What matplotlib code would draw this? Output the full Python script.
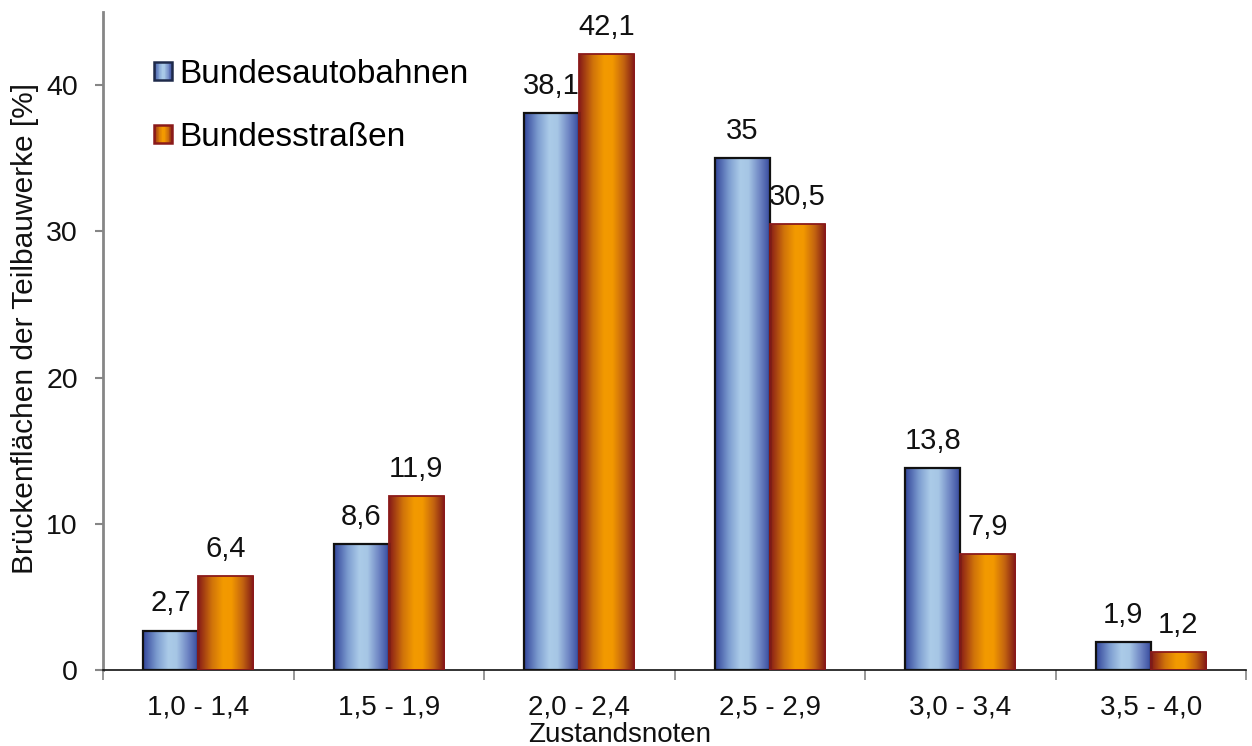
import numpy as np
import matplotlib
matplotlib.use("Agg")
import matplotlib.pyplot as plt
from matplotlib.colors import LinearSegmentedColormap
from matplotlib.patches import Rectangle
from matplotlib.legend_handler import HandlerBase

plt.rcParams['font.family'] = ['Liberation Sans', 'DejaVu Sans']

# Zustandsnoten-Klassen und Flächenanteile
categories = ["1,0 - 1,4", "1,5 - 1,9", "2,0 - 2,4", "2,5 - 2,9", "3,0 - 3,4", "3,5 - 4,0"]
autobahnen = [2.7, 8.6, 38.1, 35.0, 13.8, 1.9]
strassen = [6.4, 11.9, 42.1, 30.5, 7.9, 1.2]
series_names = ["Bundesautobahnen", "Bundesstraßen"]
y_ticks = [0, 10, 20, 30, 40]

blue_cmap = LinearSegmentedColormap.from_list(
    "blue_tube", [(0.0, "#32459a"), (0.25, "#7d9dd0"), (0.45, "#abcbe8"),
                  (0.6, "#a6c6e5"), (0.8, "#6f86c4"), (1.0, "#32459a")])
orange_cmap = LinearSegmentedColormap.from_list(
    "orange_tube", [(0.0, "#861a18"), (0.25, "#d0730a"), (0.45, "#f39a00"),
                    (0.6, "#f29800"), (0.8, "#c36410"), (1.0, "#7e1616")])

W, H = 1252, 746
fig = plt.figure(figsize=(W / 100, H / 100), dpi=100)
ax = fig.add_axes([103 / W, 1 - 670 / H, (1246 - 103) / W, (670 - 12) / H])

x = np.arange(len(categories))
bw = 0.29
grad = np.linspace(0, 1, 256).reshape(1, -1)

def tube_bars(xpos, values, cmap, edge, lw):
    bars = ax.bar(xpos, values, width=bw, facecolor="none", edgecolor=edge,
                  linewidth=lw, zorder=3)
    for b in bars:
        x0, y0 = b.get_x(), b.get_y()
        im = ax.imshow(grad, cmap=cmap, aspect="auto", zorder=2,
                       extent=(x0, x0 + b.get_width(), y0, y0 + b.get_height()),
                       interpolation="bicubic")
        im.set_clip_path(b)
    return bars

bars_a = tube_bars(x - bw / 2, autobahnen, blue_cmap, "#111111", 1.6)
bars_s = tube_bars(x + bw / 2, strassen, orange_cmap, "#8b1a1a", 1.3)

def fmt(v):
    return f"{v:g}".replace(".", ",")

for bars, vals in ((bars_a, autobahnen), (bars_s, strassen)):
    for b, v in zip(bars, vals):
        ax.annotate(fmt(v), (b.get_x() + b.get_width() / 2, v),
                    xytext=(0, 9.5), textcoords="offset points",
                    ha="center", va="bottom", fontsize=21, color="#111111")

ax.set_xlim(-0.5, len(categories) - 0.5)
ax.set_ylim(0, 45)

# Achsen
for s in ("top", "right"):
    ax.spines[s].set_visible(False)
ax.spines["left"].set_color("#868686")
ax.spines["left"].set_linewidth(2.0)
ax.spines["bottom"].set_color("#111111")
ax.spines["bottom"].set_linewidth(1.2)

ax.set_yticks(y_ticks)
ax.set_yticklabels([str(t) for t in y_ticks])
ax.tick_params(axis="y", direction="out", length=6, width=1.5, color="#868686",
               pad=12, labelsize=20.5, labelcolor="#111111")

ax.set_xticks(x)
ax.set_xticklabels(categories)
ax.set_xticks(np.arange(len(categories) + 1) - 0.5, minor=True)
ax.tick_params(axis="x", which="major", length=0, pad=18, labelsize=20,
               labelcolor="#111111")
ax.tick_params(axis="x", which="minor", direction="out", length=7, width=1.2,
               color="#868686")

fig.text(620 / W, 1 - 735 / H, "Zustandsnoten", ha="center", va="center",
         fontsize=20, color="#111111")
fig.text(25 / W, 1 - 328 / H, "Brückenflächen der Teilbauwerke [%]",
         rotation=90, ha="center", va="center", fontsize=21.5, color="#111111")

# Legende mit kleinen Farbverlaufs-Quadraten
class GradientSquare(HandlerBase):
    def __init__(self, cmap, edge):
        super().__init__()
        self.cmap, self.edge = cmap, edge

    def create_artists(self, legend, orig_handle, xdescent, ydescent,
                       width, height, fontsize, trans):
        s = min(width, height)
        x0, y0 = -xdescent, -ydescent + (height - s) / 2
        n = 24
        artists = []
        for k in range(n):
            artists.append(Rectangle((x0 + s * k / n, y0), s / n * 1.05, s,
                                     facecolor=self.cmap((k + 0.5) / n),
                                     edgecolor="none", transform=trans))
        artists.append(Rectangle((x0, y0), s, s, facecolor="none",
                                 edgecolor=self.edge, linewidth=1.8,
                                 transform=trans))
        return artists

h1 = Rectangle((0, 0), 1, 1)
h2 = Rectangle((0, 0), 1, 1)
ax.legend([h1, h2], series_names, loc="upper left",
          bbox_to_anchor=((154 - 103) / (1246 - 103), 1 - (59 - 12) / (670 - 12)),
          frameon=False, fontsize=24, handlelength=0.55, handleheight=0.55,
          handletextpad=0.22, labelspacing=0.95, borderpad=0, borderaxespad=0,
          handler_map={h1: GradientSquare(blue_cmap, "#1e2a4a"),
                       h2: GradientSquare(orange_cmap, "#8b1a1a")})

fig.savefig("out.png", dpi=100)
